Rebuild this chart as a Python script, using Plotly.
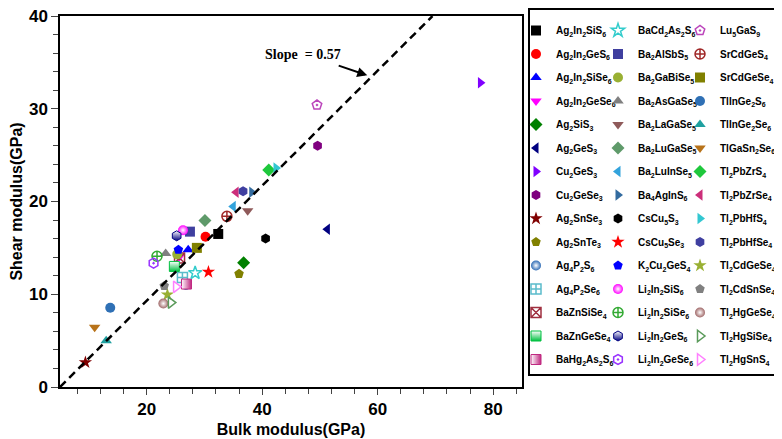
import re
import plotly.graph_objects as go

# ---------------- data ----------------
COMPOUNDS = [
    "Ag2In2SiS6", "Ag2In2GeS6", "Ag2In2SiSe6", "Ag2In2GeSe6", "Ag2SiS3",
    "Ag2GeS3", "Cu2GeS3", "Cu2GeSe3", "Ag2SnSe3", "Ag2SnTe3",
    "Ag4P2S6", "Ag4P2Se6", "BaZnSiSe4", "BaZnGeSe4", "BaHg2As2S6",
    "BaCd2As2S6", "Ba2AlSbS5", "Ba2GaBiSe5", "Ba2AsGaSe5", "Ba2LaGaSe5",
    "Ba2LuGaSe5", "Ba2LuInSe5", "Ba4AgInS6", "CsCu5S3", "CsCu5Se3",
    "K2Cu2GeS4", "Li2In2SiS6", "Li2In2SiSe6", "Li2In2GeS6", "Li2In2GeSe6",
    "Lu5GaS9", "SrCdGeS4", "SrCdGeSe4", "TlInGe2S6", "TlInGe2Se6",
    "TlGaSn2Se6", "Tl2PbZrS4", "Tl2PbZrSe4", "Tl2PbHfS4", "Tl2PbHfSe4",
    "Tl2CdGeSe4", "Tl2CdSnSe4", "Tl2HgGeSe4", "Tl2HgSiSe4", "Tl2HgSnS4",
]
BULK = [
    32.4, 30.2, 27.2, 25.6, 36.8,
    51.3, 77.8, 49.6, 9.4, 36.0,
    26.8, 26.2, 25.7, 24.8, 26.9,
    28.4, 27.5, 25.3, 23.3, 37.5,
    30.1, 35.0, 38.2, 40.6, 30.7,
    25.5, 26.3, 21.8, 25.2, 21.2,
    49.5, 33.9, 28.7, 13.7, 13.0,
    11.0, 41.15, 35.5, 42.4, 36.7,
    23.6, 23.05, 22.9, 24.2, 25.1,
]
SHEAR = [
    16.5, 16.2, 14.8, 14.0, 13.4,
    17.0, 32.8, 26.0, 2.65, 12.2,
    11.0, 11.8, 13.9, 13.0, 11.1,
    12.3, 16.75, 14.3, 14.4, 19.0,
    17.95, 19.45, 21.0, 16.0, 12.4,
    14.8, 16.9, 14.1, 16.3, 13.35,
    30.4, 18.4, 15.0, 8.55, 5.0,
    6.45, 23.4, 21.0, 23.6, 21.1,
    9.95, 10.9, 9.0, 9.1, 10.8,
]
FIT_SLOPE = 0.62
FIT_X0 = 5.0
FIT_X = [5.0, 69.5]
X_TICKS = [20, 40, 60, 80]
Y_TICKS = [0, 10, 20, 30, 40]

# ---------------- styles ----------------
STYLES = [
    ("square", "#000000"), ("circle", "#FF0000"), ("triangle-up", "#0000FF"),
    ("triangle-down", "#FF00FF"), ("diamond", "#008000"), ("triangle-left", "#000080"),
    ("triangle-right", "#8000FF"), ("hexagon", "#800080"), ("star", "#800000"),
    ("pentagon", "#808000"), ("circle", "#2E6BB5"), ("square-cross-open", "#5BBCCB"),
    ("square-x-open", "#A03040"), ("square", "#00C040"), ("square", "#C02880"),
    ("star-open", "#33CCCC"), ("square", "#3F3F9F"), ("circle", "#99B033"),
    ("triangle-up", "#808080"), ("triangle-down", "#8F5A5A"), ("diamond", "#5F9A6A"),
    ("triangle-left", "#33A3DC"), ("triangle-right", "#336B9F"), ("hexagon", "#000000"),
    ("star", "#FF0000"), ("pentagon", "#0000FF"), ("circle", "#FF00FF"),
    ("circle-cross-open", "#33AA33"), ("hexagon", "#000080"), ("hexagon-open-dot", "#9933FF"),
    ("pentagon-open-dot", "#BB44BB"), ("circle-cross-open", "#A02828"), ("square", "#808000"),
    ("circle", "#2F70B5"), ("triangle-up", "#1FA0A0"), ("triangle-down", "#B8731A"),
    ("diamond", "#1EC83C"), ("triangle-left", "#CC2E7A"), ("triangle-right", "#33C7D1"),
    ("hexagon", "#3F3FA0"), ("star", "#99B033"), ("pentagon", "#808080"),
    ("circle", "#A06868"), ("triangle-right-open", "#5A9A5A"), ("triangle-right-open", "#FF80FF"),
]
SPHERES = {"Ag4P2S6", "Li2In2SiS6", "Tl2HgGeSe4"}
HALF_V = {"BaZnGeSe4", "Li2In2GeS6"}
HALF_H = {"BaHg2As2S6"}


def sub_name(s):
    return re.sub(r"(\d+)", r"<sub>\1</sub>", s)


fig = go.Figure()
legends = ["legend", "legend2", "legend3"]
for i, name in enumerate(COMPOUNDS):
    sym, col = STYLES[i]
    marker = dict(symbol=sym, color=col, size=10, line=dict(color=col, width=1.5 if "open" in sym else 0))
    if name in SPHERES:
        marker["gradient"] = dict(type="radial", color="#FFFFFF")
    if name in HALF_V:
        marker["color"] = "#FFFFFF"
        marker["gradient"] = dict(type="vertical", color=col)
        marker["line"] = dict(color=col, width=1)
    if name in HALF_H:
        marker["color"] = "#FFFFFF"
        marker["gradient"] = dict(type="horizontal", color=col)
        marker["line"] = dict(color=col, width=1)
    fig.add_trace(go.Scatter(
        x=[BULK[i]], y=[SHEAR[i]], mode="markers", name=sub_name(name),
        marker=marker, legend=legends[i // 15], legendgroup=name,
    ))

fig.add_trace(go.Scatter(
    x=FIT_X, y=[FIT_SLOPE * (v - FIT_X0) for v in FIT_X], mode="lines",
    line=dict(color="black", width=2.5, dash="8px,5px"), showlegend=False, hoverinfo="skip",
))

font_ax = dict(family="Arial", size=17, color="black", weight="bold")
fig.update_xaxes(
    range=[5, 85], tickvals=X_TICKS, ticks="outside", ticklen=6, tickwidth=1.3,
    minor=dict(dtick=4, tick0=0, ticks="outside", ticklen=5, tickwidth=1.3),
    showline=True, linewidth=1.5, linecolor="black", mirror=True, showgrid=False, zeroline=False,
    tickfont=font_ax, ticklabeloverflow="allow",
    title=dict(text="Bulk modulus(GPa)", font=dict(family="Arial", size=16, color="black", weight="bold"), standoff=6),
)
fig.update_yaxes(
    range=[0, 40], tickvals=Y_TICKS, ticks="outside", ticklen=7, tickwidth=1.3,
    minor=dict(dtick=2, tick0=0, ticks="outside", ticklen=5, tickwidth=1.3),
    showline=True, linewidth=1.5, linecolor="black", mirror=True, showgrid=False, zeroline=False,
    tickfont=font_ax, ticklabeloverflow="allow",
    title=dict(text="Shear modulus(GPa)", font=dict(family="Arial", size=16, color="black", weight="bold"), standoff=6),
)

FIG_W, FIG_H = 774, 431
TOP, BOT = 8, 52
PW = 462.0
PH = FIG_H - TOP - BOT
leg_common = dict(
    font=dict(family="Arial", size=10, color="black", weight="bold"),
    bgcolor="rgba(0,0,0,0)", borderwidth=0, xanchor="left",
    yanchor="top", y=1.0, tracegroupgap=4.5,
)
fig.update_layout(
    width=FIG_W, height=FIG_H,
    margin=dict(l=52, r=260, t=TOP, b=BOT, autoexpand=False),
    plot_bgcolor="white", paper_bgcolor="white",
    legend=dict(x=(516 - 60) / PW, **leg_common),
    legend2=dict(x=(598 - 60) / PW, **leg_common),
    legend3=dict(x=(680 - 60) / PW, **leg_common),
    shapes=[dict(type="rect", xref="paper", yref="paper",
                 x0=(529 - 60) / PW, x1=(780 - 60) / PW, y0=12 / PH, y1=1.0 + 7 / PH,
                 line=dict(color="black", width=2))],
    annotations=[
        dict(x=47.0, y=35.9, xref="x", yref="y", text="Slope  = 0.57", showarrow=False,
             font=dict(family="Liberation Serif", size=14, color="black", weight="bold")),
        dict(x=58.2, y=33.6, xref="x", yref="y", ax=53.0, ay=34.7, axref="x", ayref="y",
             text="", showarrow=True, arrowhead=2, arrowsize=1, arrowwidth=2, arrowcolor="black"),
    ],
)

fig.write_html("out.html")
